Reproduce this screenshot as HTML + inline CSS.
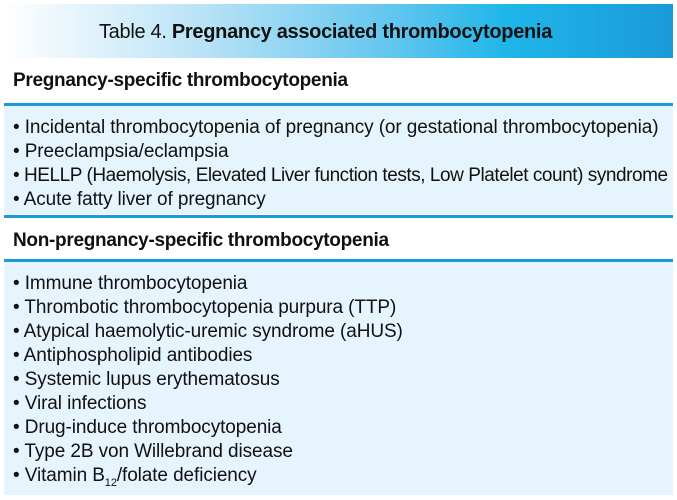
<!DOCTYPE html>
<html><head><meta charset="utf-8"><style>
body{margin:0;width:677px;height:500px;background:#fff;font-family:"Liberation Sans",Arial,sans-serif;position:relative;overflow:hidden;color:#111}
.hdr{position:absolute;left:4px;top:4px;width:643px;padding-right:26px;height:54px;background:linear-gradient(90deg,#ffffff 0%,#b9e2f6 30%,#5bc4ee 60%,#1fb6e9 75%,#1a9ad8 100%);text-align:center;line-height:56px;font-size:20px;letter-spacing:-0.3px}
.sec{position:absolute;left:13px;font-size:19px;font-weight:bold;letter-spacing:-0.3px}
.line{position:absolute;left:4px;width:669px;height:3px;background:#1a9ad8}
.box{position:absolute;left:4px;width:669px;background:#e6f4fd}
.item{position:absolute;left:9px;font-size:19px;line-height:22px;white-space:nowrap;letter-spacing:-0.1px}
</style></head><body>
<div class="hdr">Table 4. <b>Pregnancy associated thrombocytopenia</b></div>
<div class="sec" style="top:70px">Pregnancy-specific thrombocytopenia</div>
<div class="line" style="top:103px"></div>
<div class="box" style="top:106px;height:108px">
<div class="item" style="top:11px">• Incidental thrombocytopenia of pregnancy (or gestational thrombocytopenia)</div>
<div class="item" style="top:35px">• Preeclampsia/eclampsia</div>
<div class="item" style="top:59px;letter-spacing:-0.45px">• HELLP (Haemolysis, Elevated Liver function tests, Low Platelet count) syndrome</div>
<div class="item" style="top:83px">• Acute fatty liver of pregnancy</div>
</div>
<div class="line" style="top:215px"></div>
<div class="sec" style="top:230px">Non-pregnancy-specific thrombocytopenia</div>
<div class="line" style="top:259px"></div>
<div class="box" style="top:262px;height:233px">
<div class="item" style="top:11px">• Immune thrombocytopenia</div>
<div class="item" style="top:35px">• Thrombotic thrombocytopenia purpura (TTP)</div>
<div class="item" style="top:59px">• Atypical haemolytic-uremic syndrome (aHUS)</div>
<div class="item" style="top:83px">• Antiphospholipid antibodies</div>
<div class="item" style="top:107px">• Systemic lupus erythematosus</div>
<div class="item" style="top:131px">• Viral infections</div>
<div class="item" style="top:155px">• Drug-induce thrombocytopenia</div>
<div class="item" style="top:179px">• Type 2B von Willebrand disease</div>
<div class="item" style="top:203px">• Vitamin B<sub style="font-size:11px;line-height:0">12</sub>/folate deficiency</div>
</div>
</body></html>
